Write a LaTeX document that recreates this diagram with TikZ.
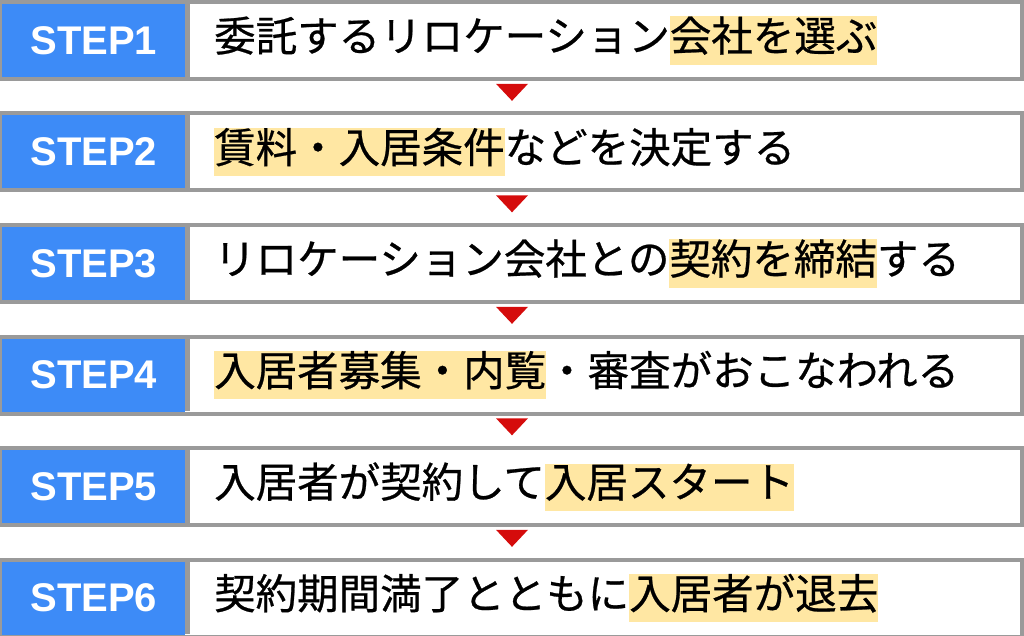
\documentclass[tikz,border=0pt]{standalone}
\usepackage{fontspec}
\setmainfont{Noto Sans CJK JP}[FakeBold=0.6]
\newfontfamily\stepfont{Liberation Sans}
\usetikzlibrary{positioning,calc}
\definecolor{stepblue}{HTML}{3D8BF7}
\definecolor{framegray}{HTML}{9A9A9A}
\definecolor{hlyellow}{HTML}{FFE7A3}
\definecolor{arrowred}{HTML}{D50C0C}
\newcommand{\hl}[1]{{\setlength{\fboxsep}{0pt}\colorbox{hlyellow}{\strut #1}}}
\tikzset{
    x=1pt, y=1pt,
    rowbox/.style={
        rectangle,
        draw=framegray, line width=4pt,
        fill=white,
        minimum width=1020pt,
        minimum height=77pt,
        inner sep=0pt
    },
    stepbox/.style={
        rectangle,
        fill=stepblue,
        minimum width=183pt,
        minimum height=73pt,
        inner sep=0pt,
        text=white,
        font={\stepfont\bfseries\fontsize{40pt}{42pt}\selectfont}
    },
    textlabel/.style={
        anchor=west,
        inner sep=0pt,
        font={\fontsize{41.5pt}{44pt}\selectfont}
    },
    downarrow/.style={fill=arrowred},
}
\begin{document}
\begin{tikzpicture}
\useasboundingbox (0,0) rectangle (1024,-636);
\foreach \i/\txt in {
    1/{委託するリロケーション\hl{会社を選ぶ}},
    2/{\hl{賃料・入居条件}などを決定する},
    3/{リロケーション会社との\hl{契約を締結}する},
    4/{\hl{入居者募集・内覧}・審査がおこなわれる},
    5/{入居者が契約して\hl{入居スタート}},
    6/{契約期間満了とともに\hl{入居者が退去}}}
{
    \node[rowbox] (row\i) at (512,{-40.5-111.5*(\i-1)}) {};
    \node[stepbox, anchor=west] (step\i) at ($(row\i.west)+(2,0)$) {STEP\i};
    \draw[framegray, line width=5pt] (step\i.north east) ++(2.5,0) -- ++(0,-73);
    \node[textlabel] (text\i) at ($(row\i.west)+(214,0)$) {\txt};
}
% arrows between steps
\foreach \i [evaluate=\i as \j using int(\i+1)] in {1,...,5}
{
    \coordinate (tip\i) at ($(row\i.south)!0.65!(row\j.north)$);
    \fill[downarrow] ($(tip\i)+(-16,17)$) -- ($(tip\i)+(16,17)$) -- (tip\i) -- cycle;
}
\end{tikzpicture}
\end{document}
